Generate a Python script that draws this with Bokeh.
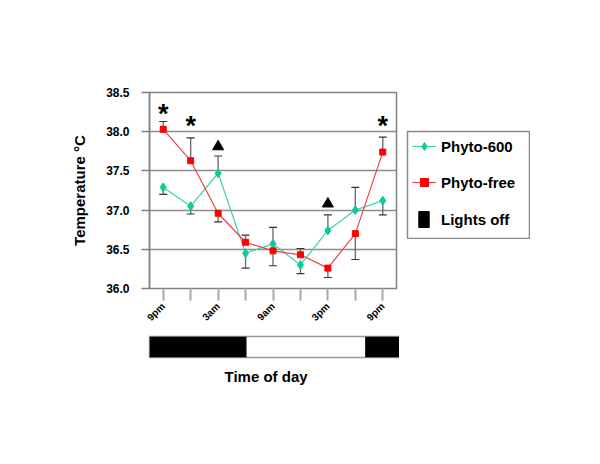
import math
from bokeh.plotting import figure
from bokeh.models import (Range1d, FixedTicker, Legend, LegendItem,
                          NumeralTickFormatter, Title)
from bokeh.layouts import column, row
from bokeh.embed import file_html
from bokeh.resources import INLINE
from bokeh.core.properties import value

# ---------------- data ----------------
slots = [0, 1, 2, 3, 4, 5, 6, 7, 8]
tick_labels = ["9pm", "", "3am", "", "9am", "", "3pm", "", "9pm"]
y_ticks = [36.0, 36.5, 37.0, 37.5, 38.0, 38.5]

phyto600 = [37.29, 37.05, 37.47, 36.45, 36.57, 36.30, 36.74, 37.00, 37.12]
phyto600_err_end = [37.20, 36.95, 37.69, 36.26, 36.78, 36.19, 36.94, 37.29, 36.94]
phytofree = [38.03, 37.63, 36.96, 36.59, 36.48, 36.43, 36.26, 36.70, 37.74]
phytofree_err_end = [38.13, 37.92, 36.85, 36.68, 36.29, 36.51, 36.14, 36.37, 37.93]

star_slots = [0, 1, 8]
star_y = [38.26, 38.11, 38.11]
tri_slots = [2, 6]
tri_y = [37.81, 37.08]

lights_off_start = [-0.54, 7.33]
lights_off_end = [3.0, 8.62]

series_names = ["Phyto-600", "Phyto-free", "Lights off"]

# ---------------- style ----------------
FONT = "Liberation Sans"
GREEN = "#10c898"
GREEN_LINE = "#3fd3ac"
RED = "#ff0000"
RED_LINE = "#e84545"
GRID = "#8c8c8c"

p = figure(frame_width=247, frame_height=196,
           min_border_left=149, min_border_top=92, min_border_bottom=40,
           min_border_right=2,
           x_range=Range1d(-0.5, 8.5), y_range=Range1d(36.0, 38.5),
           output_backend="svg", toolbar_location=None)
p.background_fill_color = "white"
p.border_fill_color = "white"
p.outline_line_color = "#808080"
p.outline_line_width = 1.5

p.xgrid.grid_line_color = None
p.ygrid.ticker = FixedTicker(ticks=y_ticks)
p.ygrid.grid_line_color = GRID
p.ygrid.grid_line_width = 1.5

p.yaxis.ticker = FixedTicker(ticks=y_ticks)
p.yaxis.formatter = NumeralTickFormatter(format="0.0")
p.yaxis.axis_label = "Temperature °C"
p.yaxis.axis_label_text_font = FONT
p.yaxis.axis_label_text_font_style = "bold"
p.yaxis.axis_label_text_font_size = "15px"
p.yaxis.axis_label_text_color = "black"
p.yaxis.axis_label_standoff = 15
p.yaxis.major_label_text_font = FONT
p.yaxis.major_label_text_font_style = "bold"
p.yaxis.major_label_text_font_size = "12px"
p.yaxis.major_label_text_color = "black"
p.yaxis.major_label_standoff = 12
p.yaxis.major_tick_in = 0
p.yaxis.major_tick_out = 8
p.yaxis.major_tick_line_color = "#808080"
p.yaxis.major_tick_line_width = 1.5
p.yaxis.minor_tick_line_color = None
p.yaxis.axis_line_color = "#808080"
p.yaxis.axis_line_width = 1.5

p.xaxis.ticker = FixedTicker(ticks=slots)
p.xaxis.major_label_overrides = {s: lab for s, lab in zip(slots, tick_labels)}
p.xaxis.major_label_orientation = math.pi / 4
p.xaxis.major_label_text_font = FONT
p.xaxis.major_label_text_font_style = "bold"
p.xaxis.major_label_text_font_size = "10px"
p.xaxis.major_label_text_color = "black"
p.xaxis.major_label_standoff = 4
p.xaxis.major_tick_in = 0
p.xaxis.major_tick_out = 12
p.xaxis.major_tick_line_color = "#a8a8a8"
p.xaxis.major_tick_line_width = 2
p.xaxis.minor_tick_line_color = None
p.xaxis.axis_line_color = None

# series lines
p.line(slots, phyto600, line_color=GREEN_LINE, line_width=1.2)
p.line(slots, phytofree, line_color=RED_LINE, line_width=1.2)

# error bars
p.segment(x0=slots, y0=phyto600, x1=slots, y1=phyto600_err_end, line_color="#707070", line_width=1.4)
p.segment(x0=slots, y0=phytofree, x1=slots, y1=phytofree_err_end, line_color="#707070", line_width=1.4)
p.scatter(slots, phyto600_err_end, marker="dash", size=8, line_color="#333333", line_width=1.2)
p.scatter(slots, phytofree_err_end, marker="dash", size=8, line_color="#333333", line_width=1.2)

# markers
p.scatter(slots, phyto600, marker="diamond", size=9, fill_color=GREEN, line_color=GREEN)
p.scatter(slots, phytofree, marker="square", size=6, fill_color=RED, line_color=RED)

# significance marks
p.text(x=star_slots, y=star_y, text=["*"] * len(star_slots), text_font=value(FONT),
       text_font_style="bold", text_font_size="27px", text_align="center",
       text_baseline="middle", y_offset=3, text_color="black")
p.scatter(tri_slots, tri_y, marker="triangle", size=11, fill_color="black", line_color="black")

# ---------------- light/dark bar ----------------
q = figure(frame_width=251, frame_height=21,
           min_border_left=148, min_border_top=7, min_border_bottom=10, min_border_right=0,
           x_range=Range1d(-0.54, 8.62), y_range=Range1d(0, 1),
           output_backend="svg", toolbar_location=None)
q.outline_line_color = "#999999"
q.outline_line_width = 1.5
q.xgrid.grid_line_color = None
q.ygrid.grid_line_color = None
q.yaxis.visible = False
q.xaxis.visible = False
q.quad(left=lights_off_start, right=lights_off_end, bottom=0, top=1,
       fill_color="black", line_color=None)
q.add_layout(Title(text="Time of day", align="left", offset=75,
                   text_font=FONT, text_font_style="bold", text_font_size="15px",
                   text_color="black", standoff=17), "below")

# ---------------- legend panel ----------------
# the legend renderers reuse the data but the ranges keep them out of view;
# the panel's frame outline serves as the legend box
lf = figure(frame_width=123, frame_height=108,
            min_border_left=8, min_border_top=131, min_border_bottom=0, min_border_right=0,
            x_range=Range1d(100, 101), y_range=Range1d(100, 101),
            output_backend="svg", toolbar_location=None)
lf.axis.visible = False
lf.grid.grid_line_color = None
lf.outline_line_color = "#888888"
lf.outline_line_width = 1.5
lg_g_line = lf.line(slots, phyto600, line_color=GREEN_LINE, line_width=1.2)
lg_g_pts = lf.scatter(slots, phyto600, marker="diamond", size=9, fill_color=GREEN, line_color=GREEN)
lg_r_line = lf.line(slots, phytofree, line_color=RED_LINE, line_width=1.2)
lg_r_pts = lf.scatter(slots, phytofree, marker="square", size=6, fill_color=RED, line_color=RED)
lg_lights = lf.quad(left=lights_off_start, right=lights_off_end, top=1, bottom=0,
                    fill_color="black", line_color="black")


def style_legend(lg, padding, glyph_width, standoff, margin):
    lg.label_text_font = FONT
    lg.label_text_font_style = "bold"
    lg.label_text_font_size = "15px"
    lg.label_text_color = "black"
    lg.border_line_color = None
    lg.background_fill_alpha = 0.0
    lg.padding = padding
    lg.spacing = 16
    lg.glyph_width = glyph_width
    lg.glyph_height = 20
    lg.label_height = 20
    lg.label_standoff = standoff
    lg.margin = margin


legend_series = Legend(items=[
    LegendItem(label=series_names[0], renderers=[lg_g_line, lg_g_pts]),
    LegendItem(label=series_names[1], renderers=[lg_r_line, lg_r_pts]),
], location="top_left")
style_legend(legend_series, 5, 24, 5, 5)
lf.add_layout(legend_series)

legend_lights = Legend(items=[
    LegendItem(label=series_names[2], renderers=[lg_lights]),
], location="bottom_left")
style_legend(legend_lights, 10, 13, 11, 10)
lf.add_layout(legend_lights)

layout = row(column(p, q, spacing=0), lf, spacing=0)
open("out.html", "w").write(file_html(layout, INLINE))
